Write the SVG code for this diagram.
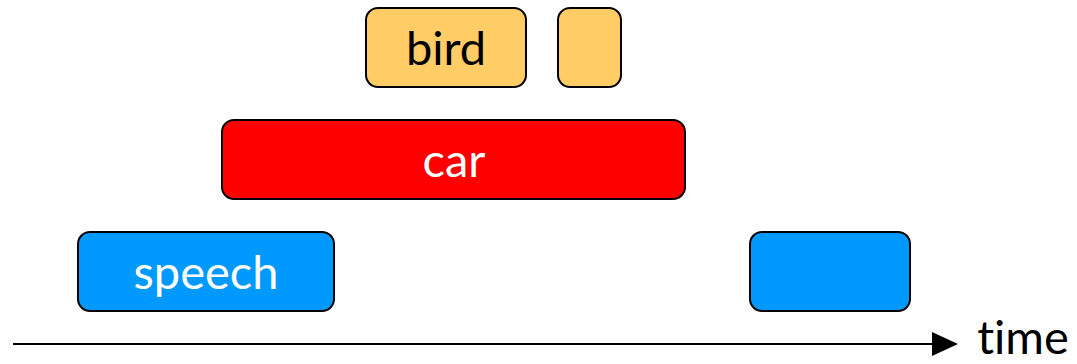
<svg xmlns="http://www.w3.org/2000/svg" width="1077" height="364" viewBox="0 0 1077 364">
  <style>
    .box { stroke: #000; stroke-width: 2; }
    .bird { fill: #FFCC66; }
    .car { fill: #FF0000; }
    .speech { fill: #0099FF; }
    .label { font-family: Lato, "Open Sans", sans-serif; font-size: 47px; text-anchor: middle; font-variant-ligatures: none; }
    .dark { fill: #000; }
    .light { fill: #fff; }
  </style>
  <g id="bird-1">
    <rect class="box bird" x="366" y="8" width="160" height="79" rx="12"/>
    <text class="label dark" x="446" y="65">bird</text>
  </g>
  <g id="bird-2">
    <rect class="box bird" x="558" y="8" width="63" height="79" rx="12"/>
  </g>
  <g id="car">
    <rect class="box car" x="222" y="120" width="463" height="79" rx="12"/>
    <text class="label light" x="454" y="177">car</text>
  </g>
  <g id="speech-1">
    <rect class="box speech" x="78" y="232" width="256" height="79" rx="12"/>
    <text class="label light" x="206" y="289">speech</text>
  </g>
  <g id="speech-2">
    <rect class="box speech" x="750" y="232" width="160" height="79" rx="12"/>
  </g>
  <g id="connectors">
    <line x1="13" y1="344" x2="932" y2="344" stroke="#000" stroke-width="2"/>
    <path d="M932,332 L958,344 L932,356 Z" fill="#000"/>
  </g>
  <text class="label dark" x="1023" y="354">time</text>
</svg>
